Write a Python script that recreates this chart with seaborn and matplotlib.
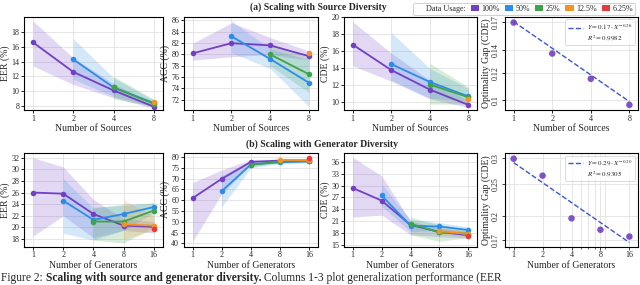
'''
Scaling plots: generalization metrics vs number of sources / generators
'''
import numpy as np
import pandas as pnd
import seaborn as sns
import matplotlib
matplotlib.use('Agg')
import matplotlib.pyplot as plt
from matplotlib.lines   import Line2D
from matplotlib.patches import Patch
from matplotlib.ticker  import NullLocator, LogLocator, NullFormatter

nan = np.nan
# ----------------------
usage_labels = ['100%', '50%', '25%', '12.5%', '6.25%']
usage_colors = ['#7140C4', '#2C8DE8', '#3FA34A', '#F39322', '#E53B3B']

n_sources    = [1, 2, 4, 8]
n_generators = [1, 2, 4, 8, 16]

# (a) source diversity: mean, band low, band high per data usage
src_eer    = {'100%': [16.6, 12.6, 10.1, 7.9], '50%': [nan, 14.3, 10.5, 8.4], '25%': [nan, nan, 10.5, 8.3], '12.5%': [nan, nan, nan, 8.6], '6.25%': [nan, nan, nan, nan]}
src_eer_lo = {'100%': [13.4, 10.9,  9.1, 7.7], '50%': [nan, 11.6,  9.3, 7.9], '25%': [nan, nan,  9.0, 7.9], '12.5%': [nan, nan, nan, nan], '6.25%': [nan, nan, nan, nan]}
src_eer_hi = {'100%': [19.5, 14.5, 11.0, 8.3], '50%': [nan, 17.1, 11.8, 8.8], '25%': [nan, nan, 12.0, 8.9], '12.5%': [nan, nan, nan, nan], '6.25%': [nan, nan, nan, nan]}

src_acc    = {'100%': [80.2, 82.0, 81.6, 79.7], '50%': [nan, 83.2, 79.2, 75.0], '25%': [nan, nan, 80.0, 76.5], '12.5%': [nan, nan, nan, 80.2], '6.25%': [nan, nan, nan, nan]}
src_acc_lo = {'100%': [79.0, 79.6, 80.0, 79.0], '50%': [nan, 80.3, 77.5, 70.8], '25%': [nan, nan, 78.0, 73.3], '12.5%': [nan, nan, nan, nan], '6.25%': [nan, nan, nan, nan]}
src_acc_hi = {'100%': [82.0, 85.6, 83.0, 80.6], '50%': [nan, 85.9, 81.0, 79.0], '25%': [nan, nan, 82.0, 79.5], '12.5%': [nan, nan, nan, nan], '6.25%': [nan, nan, nan, nan]}

src_cde    = {'100%': [16.8, 13.8, 11.5, 9.7], '50%': [nan, 14.5, 12.4, 10.7], '25%': [nan, nan, 12.1, 10.6], '12.5%': [nan, nan, nan, 10.4], '6.25%': [nan, nan, nan, nan]}
src_cde_lo = {'100%': [14.3, 12.5, 10.4, 9.4], '50%': [nan, 12.6, 10.5, 10.1], '25%': [nan, nan,  9.8,  9.8], '12.5%': [nan, nan, nan, nan], '6.25%': [nan, nan, nan, nan]}
src_cde_hi = {'100%': [19.5, 15.8, 12.6, 10.2], '50%': [nan, 18.2, 14.0, 11.6], '25%': [nan, nan, 14.6, 11.8], '12.5%': [nan, nan, nan, nan], '6.25%': [nan, nan, nan, nan]}

src_gap    = [0.169, 0.137, 0.1155, 0.0968]
src_fit    = (0.17, -0.26, 0.9982)

# (b) generator diversity
gen_eer    = {'100%': [26.0, 25.8, 22.3, 20.3, 20.1], '50%': [nan, 24.6, 21.3, 22.3, 23.5], '25%': [nan, nan, 21.0, 21.0, 22.9], '12.5%': [nan, nan, nan, 20.5, 20.3], '6.25%': [nan, nan, nan, nan, 19.8]}
gen_eer_lo = {'100%': [18.5, 22.0, 18.2, 19.5, 19.0], '50%': [nan, 19.0, 17.8, 19.5, 22.5], '25%': [nan, nan, 17.8, 17.3, 20.0], '12.5%': [nan, nan, nan, 18.0, 19.5], '6.25%': [nan, nan, nan, nan, nan]}
gen_eer_hi = {'100%': [32.0, 30.4, 24.8, 21.5, 21.0], '50%': [nan, 28.4, 23.3, 24.0, 24.2], '25%': [nan, nan, 23.5, 23.8, 24.2], '12.5%': [nan, nan, nan, 24.7, 22.0], '6.25%': [nan, nan, nan, nan, nan]}

gen_acc    = {'100%': [61.0, 69.9, 77.7, 78.3, 78.3], '50%': [nan, 64.2, 76.5, 77.5, 78.0], '25%': [nan, nan, 76.3, 78.0, 78.3], '12.5%': [nan, nan, nan, 78.6, 78.5], '6.25%': [nan, nan, nan, nan, 79.5]}
gen_acc_lo = {'100%': [41.0, 63.0, 76.8, 77.5, 77.6], '50%': [nan, 57.0, 75.0, 76.8, 77.2], '25%': [nan, nan, 75.5, 77.3, 77.6], '12.5%': [nan, nan, nan, 78.0, 77.8], '6.25%': [nan, nan, nan, nan, nan]}
gen_acc_hi = {'100%': [68.2, 74.0, 78.8, 79.0, 79.0], '50%': [nan, 71.5, 78.0, 78.2, 78.6], '25%': [nan, nan, 77.3, 78.7, 79.0], '12.5%': [nan, nan, nan, 79.2, 79.2], '6.25%': [nan, nan, nan, nan, nan]}

gen_cde    = {'100%': [29.4, 26.2, 20.0, 18.2, 17.4], '50%': [nan, 27.5, 19.8, 19.6, 18.7], '25%': [nan, nan, 20.3, 18.1, 17.8], '12.5%': [nan, nan, nan, 18.4, 17.7], '6.25%': [nan, nan, nan, nan, 17.1]}
gen_cde_lo = {'100%': [22.0, 22.5, 17.5, 17.0, 16.6], '50%': [nan, 24.8, 18.3, 18.7, 18.0], '25%': [nan, nan, 17.5, 15.8, 16.8], '12.5%': [nan, nan, nan, 17.6, 17.0], '6.25%': [nan, nan, nan, nan, nan]}
gen_cde_hi = {'100%': [37.2, 32.5, 21.0, 19.2, 18.3], '50%': [nan, 30.4, 21.3, 20.6, 19.5], '25%': [nan, nan, 22.0, 20.0, 19.0], '12.5%': [nan, nan, nan, 19.3, 18.5], '6.25%': [nan, nan, nan, nan, nan]}

gen_gap    = [0.298, 0.265, 0.197, 0.182, 0.1736]
gen_fit    = (0.29, -0.20, 0.9305)

gap_ticks_src = [0.1, 0.12, 0.14, 0.17]
gap_ticks_gen = [0.17, 0.2, 0.25, 0.3]
# ----------------------
def _initialize() -> None:
    sns.set_style('whitegrid', {'axes.edgecolor' : 'black', 'grid.color' : '#e2e2e2',
                                'xtick.bottom'   : True,    'ytick.left' : True})
    plt.rcParams['font.family']      = ['Liberation Serif', 'DejaVu Serif']
    plt.rcParams['mathtext.fontset'] = 'stix'
    plt.rcParams['axes.linewidth']   = 0.8
    plt.rcParams['grid.linewidth']   = 0.6
# ----------------------
def _style_axis(ax, xvals : list, xlabel : str, ylabel : str) -> None:
    ax.xaxis.set_minor_locator(NullLocator())
    ax.set_xticks(xvals)
    ax.set_xticklabels([str(v) for v in xvals])
    ax.set_xlabel(xlabel, fontsize=7, labelpad=1)
    ax.set_ylabel(ylabel, fontsize=7, labelpad=1)
    ax.tick_params(axis='both', labelsize=5.8, length=2, width=0.6, pad=1.5, color='black')
    for sp in ax.spines.values():
        sp.set_color('black')
        sp.set_linewidth(0.8)
# ----------------------
def _plot_metric(ax, xvals, mean, lo, hi, xlabel, ylabel, ylim, yticks) -> None:
    rows = []
    for usage in usage_labels:
        for xv, yv in zip(xvals, mean[usage]):
            if not np.isnan(yv):
                rows.append({'x' : xv, 'y' : yv, 'usage' : usage})
    df = pnd.DataFrame(rows)

    xarr = np.array(xvals, dtype=float)
    for usage, color in zip(usage_labels, usage_colors):
        arr_lo = np.array(lo[usage], dtype=float)
        arr_hi = np.array(hi[usage], dtype=float)
        mask   = ~np.isnan(arr_lo)
        if mask.sum() < 2:
            continue
        ax.fill_between(xarr[mask], arr_lo[mask], arr_hi[mask], color=color, alpha=0.2, lw=0, zorder=1)

    present = [u for u in usage_labels if u in set(df['usage'])]
    palette = {u : c for u, c in zip(usage_labels, usage_colors)}
    sns.lineplot(data=df, x='x', y='y', hue='usage', hue_order=present, palette=palette,
                 marker='o', markersize=4, markeredgewidth=0, lw=1.3, errorbar=None,
                 legend=False, ax=ax, zorder=3)
    ax.set_xscale('log', base=2)
    ax.margins(x=0.075)
    ax.set_ylim(*ylim)
    ax.set_yticks(yticks)
    _style_axis(ax, xvals, xlabel, ylabel)
# ----------------------
def _plot_gap(ax, xvals, gap, fit, xlabel, ylim, yticks, minor_grid : bool) -> None:
    fit_a, fit_b, r2 = fit
    xarr = np.array(xvals, dtype=float)
    xfit = np.geomspace(xarr.min(), xarr.max(), 60)

    sns.lineplot(x=xfit, y=fit_a * xfit ** fit_b, color='#3B55D4', linestyle='--', lw=1.0, ax=ax, zorder=2)
    sns.scatterplot(x=xarr, y=gap, color=usage_colors[0], s=22, edgecolor='none', alpha=0.9, ax=ax, zorder=3)

    ax.set_yscale('log')
    ax.set_ylim(*ylim)
    ax.yaxis.set_minor_locator(NullLocator())
    ax.set_yticks(yticks)
    ax.set_yticklabels([f'{v:g}' for v in yticks], rotation=90, va='center')
    if minor_grid:
        ax.set_xscale('log', base=10)
        ax.margins(x=0.075)
        ax.set_xticks(xvals)
        ax.set_xticklabels([str(v) for v in xvals])
        ax.xaxis.set_minor_locator(LogLocator(base=10, subs=np.arange(2, 10)))
        ax.xaxis.set_minor_formatter(NullFormatter())
        ax.grid(True, which='minor', axis='x', color='#e2e2e2', lw=0.6)
        ax.tick_params(axis='x', which='minor', length=1.2, width=0.5)
        ax.set_xlabel(xlabel, fontsize=7, labelpad=1)
        ax.set_ylabel('Optimality Gap (CDE)', fontsize=7, labelpad=1)
        ax.tick_params(axis='both', which='major', labelsize=5.8, length=2, width=0.6, pad=1.5)
        for sp in ax.spines.values():
            sp.set_color('black')
            sp.set_linewidth(0.8)
    else:
        ax.set_xscale('log', base=2)
        ax.margins(x=0.075)
        _style_axis(ax, xvals, xlabel, 'Optimality Gap (CDE)')

    handles = [Line2D([0], [0], color='#3B55D4', linestyle='--', lw=1.0),
               Line2D([0], [0], color='none')]
    labels  = [rf'$Y = {fit_a:.2f} \cdot X^{{{fit_b:.2f}}}$', rf'$R^2 = {r2:.4f}$']
    leg = ax.legend(handles, labels, loc='upper right', fontsize=5, frameon=True,
                    handlelength=2.2, handletextpad=0.5, borderpad=0.4, labelspacing=0.2,
                    borderaxespad=0.4)
    leg.get_frame().set_edgecolor('#cccccc')
    leg.get_frame().set_linewidth(0.6)
# ----------------------
def _add_caption(fig) -> None:
    pieces = [('Figure 2: ', 'normal'),
              ('Scaling with source and generator diversity.', 'bold'),
              (' Columns 1-3 plot generalization performance (EER', 'normal')]
    renderer = fig.canvas.get_renderer()
    xpos = 0.002
    for text, weight in pieces:
        txt = fig.text(xpos, 0.003, text, fontsize=8.3, weight=weight, ha='left', va='bottom')
        bbox = txt.get_window_extent(renderer=renderer)
        xpos += bbox.width / fig.bbox.width
# ----------------------
def main():
    _initialize()
    fig = plt.figure(figsize=(6.4, 2.85), dpi=100)

    lefts  = [0.0375, 0.2875, 0.5375, 0.789]
    widths = [0.217, 0.209, 0.208, 0.208]
    top_b, bot_b, height = 0.614, 0.135, 0.328

    ax_t = [fig.add_axes([l, top_b, w, height]) for l, w in zip(lefts, widths)]
    ax_b = [fig.add_axes([l, bot_b, w, height]) for l, w in zip(lefts, widths)]

    xs = 'Number of Sources'
    xg = 'Number of Generators'
    _plot_metric(ax_t[0], n_sources, src_eer, src_eer_lo, src_eer_hi, xs, 'EER (%)', (7.45, 20.1), range(8, 19, 2))
    _plot_metric(ax_t[1], n_sources, src_acc, src_acc_lo, src_acc_hi, xs, 'ACC (%)', (70.2, 86.7), range(72, 87, 2))
    _plot_metric(ax_t[2], n_sources, src_cde, src_cde_lo, src_cde_hi, xs, 'CDE (%)', (9.1, 20.1), range(10, 21, 2))
    _plot_gap(ax_t[3], n_sources, src_gap, src_fit, xs, (0.0935, 0.176), gap_ticks_src, minor_grid=False)

    _plot_metric(ax_b[0], n_generators, gen_eer, gen_eer_lo, gen_eer_hi, xg, 'EER (%)', (16.7, 32.8), range(18, 33, 2))
    _plot_metric(ax_b[1], n_generators, gen_acc, gen_acc_lo, gen_acc_hi, xg, 'ACC (%)', (38.6, 81.8), range(40, 81, 5))
    _plot_metric(ax_b[2], n_generators, gen_cde, gen_cde_lo, gen_cde_hi, xg, 'CDE (%)', (14.5, 38.3), range(15, 37, 3))
    _plot_gap(ax_b[3], n_generators, gen_gap, gen_fit, xg, (0.162, 0.31), gap_ticks_gen, minor_grid=True)

    fig.text(0.497, 0.975, '(a) Scaling with Source Diversity', fontsize=7, weight='bold', ha='center', va='center')
    fig.text(0.503, 0.493, '(b) Scaling with Generator Diversity', fontsize=7, weight='bold', ha='center', va='center')

    handles = [Patch(color='none')] + [Patch(facecolor=c, edgecolor='none') for c in usage_colors]
    labels  = ['Data Usage:'] + usage_labels
    leg = fig.legend(handles, labels, loc='upper right', bbox_to_anchor=(0.999, 1.003), ncol=6,
                     fontsize=5.8, frameon=True, handlelength=1.0, handleheight=0.8,
                     handletextpad=0.35, columnspacing=0.6, borderpad=0.25)
    leg.get_frame().set_edgecolor('#bbbbbb')
    leg.get_frame().set_linewidth(0.6)

    _add_caption(fig)
    fig.savefig('out.png', dpi=100)
# ----------------------
if __name__ == '__main__':
    main()
